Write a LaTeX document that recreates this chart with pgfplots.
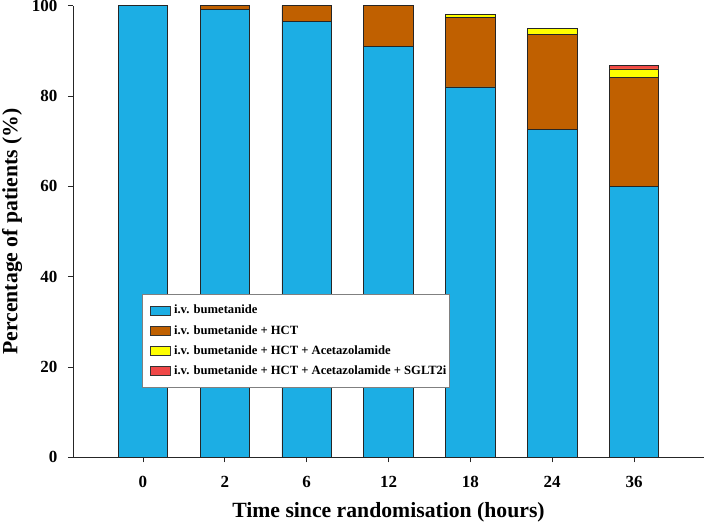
\documentclass[border=0pt]{standalone}
\usepackage{pgfplots}
\usepackage{pgfplotstable}
\pgfplotsset{compat=1.18}
\usepackage{fontspec}
\setmainfont{Liberation Serif}
\definecolor{cblue}{RGB}{28,174,228}
\definecolor{corange}{RGB}{192,96,0}
\definecolor{cyellow}{RGB}{255,255,0}
\definecolor{cred}{RGB}{240,72,72}
\pgfplotstableread{
x blue hct yel red
0 100 0 0 0
1 99.2 0.8 0 0
2 96.6 3.4 0 0
3 90.9 9.1 0 0
4 82.0 15.3 0.7 0
5 72.6 21.1 1.3 0
6 60.0 24.1 1.9 0.7
}\datatable
\pgfplotsset{mylegend/.style={legend image code/.code={\path (0pt,0pt) (28pt,0pt);\draw[##1, draw=black!80, line width=0.6pt] (7pt,-4.5pt) rectangle (27pt,4.5pt);}}}
\begin{document}
\begin{tikzpicture}
\begin{axis}[
  at={(0pt,0pt)}, anchor=south west,
  scale only axis, width=631pt, height=451.6pt,
  xmin=-0.855, xmax=6.855, ymin=0, ymax=100,
  ybar stacked, bar width=49.5pt,
  axis x line*=bottom, axis y line*=left,
  axis line style={-, line width=0.8pt, black!85},
  xtick={0,...,6}, xticklabels={0,2,6,12,18,24,36},
  ytick={0,20,...,100},
  tick align=outside, major tick length=5pt,
  tick style={line width=0.8pt, black!85},
  /pgf/number format/assume math mode=true,
  tick label style={font=\bfseries\fontsize{17}{20}\selectfont},
  xticklabel style={yshift=-10pt},
  yticklabel style={xshift=-7pt},
  xlabel={Time since randomisation (hours)},
  ylabel={Percentage of patients (\%)},
  label style={font=\bfseries\fontsize{21.7}{26}\selectfont},
  xlabel style={at={(axis description cs:0.5,-0.1333)}, anchor=base},
  ylabel style={at={(axis description cs:-0.088,0.5)}, anchor=base, rotate=0},
  legend style={at={(rel axis cs:0.1094,0.3616)}, anchor=north west,
    draw=black!50, line width=0.5pt, fill=white,
    font=\bfseries\fontsize{12.6}{15}\selectfont,
    /tikz/row sep=6pt, inner xsep=1pt, inner ysep=9pt},
  legend cell align=left,
]
\addplot[fill=cblue, draw=black!85, line width=0.8pt, mylegend] table[x=x,y=blue]{\datatable};
\addplot[fill=corange, draw=black!85, line width=0.8pt, mylegend] table[x=x,y=hct]{\datatable};
\addplot[fill=cyellow, draw=black!85, line width=0.8pt, mylegend] table[x=x,y=yel]{\datatable};
\addplot[fill=cred, draw=black!85, line width=0.8pt, mylegend] table[x=x,y=red]{\datatable};
\legend{i.v. bumetanide, i.v. bumetanide + HCT, i.v. bumetanide + HCT + Acetazolamide, i.v. bumetanide + HCT + Acetazolamide + SGLT2i}
\end{axis}
\pgfresetboundingbox
\path[use as bounding box] (-73pt,-70.7pt) rectangle (631pt,457.3pt);
\end{tikzpicture}
\end{document}
